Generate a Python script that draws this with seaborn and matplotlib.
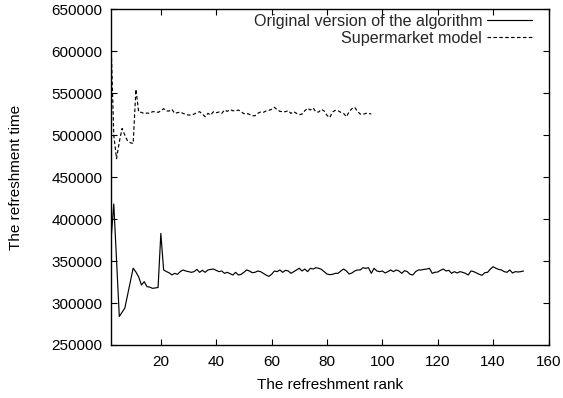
import matplotlib
matplotlib.use("Agg")
import matplotlib.pyplot as plt
import seaborn as sns
import pandas as pd

# Refreshment time per refreshment rank, original algorithm (ranks 2..151)
original_time = [
    375000, 418000, 351000, 284000, 289000, 294000, 310000, 326000, 341500,
    337000, 331000, 321500, 325500, 319500, 319000, 317500, 318000, 318500,
    383000, 339500, 337500, 336000, 333500, 335400, 334200, 337400, 339400,
    338200, 337400, 336600, 337400, 340100, 336600, 339000, 336600, 339400,
    340100, 340500, 339000, 337400, 338200, 335400, 336600, 335000, 333400,
    336600, 333400, 334200, 336600, 339400, 338200, 336200, 336600, 338200,
    337400, 335400, 333400, 331800, 334200, 338200, 337400, 339400, 336600,
    339000, 338200, 335400, 337400, 339400, 341400, 338200, 340500, 337400,
    341400, 340500, 342100, 341400, 340100, 337400, 334600, 333800, 334200,
    335400, 335400, 338200, 340500, 338200, 334600, 335800, 338200, 339400,
    339400, 342100, 341400, 342100, 335400, 341400, 338200, 337400, 338200,
    335800, 337400, 339400, 337400, 339400, 338200, 335400, 338600, 337400,
    334200, 333400, 337400, 339400, 339400, 340100, 340500, 341400, 335400,
    336600, 337000, 339000, 340500, 338200, 339000, 335400, 337400, 335800,
    337400, 336600, 335400, 333400, 338200, 337400, 335800, 334200, 333000,
    336200, 336600, 340500, 343300, 341400, 340100, 339400, 337400, 336600,
    339400, 335800, 337400, 337000, 337400, 338200,
]

# Refreshment time per refreshment rank, supermarket model (ranks 2..96)
supermarket_time = [
    613000, 500000, 472000, 492000, 508000, 500000, 493000, 491000, 490000,
    554700, 527600, 527200, 525600, 526400, 526000, 528000, 528000, 527200,
    528800, 531600, 528800, 528800, 530800, 526000, 526800, 527600, 526000,
    524800, 524000, 524000, 525200, 526800, 528000, 525200, 522000, 526000,
    524000, 528000, 526800, 527600, 526000, 530000, 528400, 530400, 529200,
    528800, 530000, 528000, 525600, 526000, 524800, 523200, 523200, 526000,
    527600, 527200, 528800, 529600, 530800, 533200, 530400, 528400, 528000,
    528000, 529200, 526000, 528000, 526000, 524400, 525200, 529200, 532000,
    530000, 532400, 527600, 527600, 530800, 528800, 523600, 521000, 527600,
    529600, 529200, 527200, 526000, 522000, 528000, 531600, 533200, 528400,
    525200, 524800, 526000, 526000, 525200,
]

first_rank = 2
original_rank = list(range(first_rank, first_rank + len(original_time)))
supermarket_rank = list(range(first_rank, first_rank + len(supermarket_time)))

x_ticks = [20, 40, 60, 80, 100, 120, 140, 160]
y_ticks = [250000, 300000, 350000, 400000, 450000, 500000, 550000, 600000, 650000]

sns.set_theme(style="ticks")
plt.rcParams["font.family"] = ["Liberation Sans", "DejaVu Sans"]

fig = plt.figure(figsize=(5.63, 3.98), dpi=100)
ax = fig.add_axes([111 / 563, 1 - 345 / 398, 437.5 / 563, 335.7 / 398])

df_orig = pd.DataFrame({"rank": original_rank, "time": original_time})
df_super = pd.DataFrame({"rank": supermarket_rank, "time": supermarket_time})

sns.lineplot(data=df_orig, x="rank", y="time", ax=ax, color="black",
             linewidth=0.85, label="Original version of the algorithm")
sns.lineplot(data=df_super, x="rank", y="time", ax=ax, color="black",
             linewidth=0.85, linestyle=(0, (3, 2)), label="Supermarket model")

ax.set_xlim(first_rank, 160)
ax.set_ylim(250000, 650000)
ax.set_xticks(x_ticks)
ax.set_yticks(y_ticks)
ax.set_xticklabels([str(t) for t in x_ticks])
ax.set_yticklabels([str(t) for t in y_ticks])

for side in ["left", "right", "top", "bottom"]:
    ax.spines[side].set_visible(True)
    ax.spines[side].set_color("black")
    ax.spines[side].set_linewidth(1.0)

ax.tick_params(axis="both", which="major", direction="in", length=4,
               width=0.8, color="black", labelsize=11, labelcolor="black",
               top=True, right=True)
ax.tick_params(axis="x", pad=7)
ax.tick_params(axis="y", pad=6)

ax.set_xlabel("The refreshment rank", fontsize=11, color="black", labelpad=7)
ax.set_ylabel("The refreshment time", fontsize=11, color="black", labelpad=21)

leg = ax.legend(loc="upper right", frameon=False, markerfirst=False,
                fontsize=11.6, handlelength=2.8, handletextpad=0.3,
                labelspacing=0.1, borderaxespad=0.2,
                bbox_to_anchor=(0.985, 1.015))

fig.savefig("out.png", dpi=100)
